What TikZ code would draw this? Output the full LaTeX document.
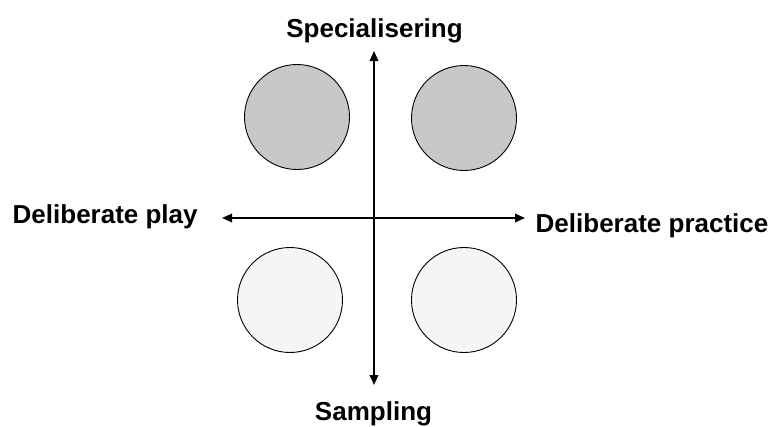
\documentclass[tikz,border=0pt]{standalone}
\usepackage{fontspec}
\setmainfont{Liberation Sans}
\usetikzlibrary{arrows.meta}
\definecolor{darkfill}{HTML}{C8C8C8}
\definecolor{lightfill}{HTML}{F5F5F5}
\begin{document}
\begin{tikzpicture}[x=1pt,y=-1pt,
  axis/.style={line width=1.8pt,-{Triangle[length=10pt,width=8.5pt]}},
  disc/.style={circle,draw=black,line width=0.9pt,minimum size=105pt,inner sep=0pt},
  lbl/.style={font=\fontsize{26}{30}\selectfont\bfseries,inner sep=0pt}]
\useasboundingbox (0,0) rectangle (775,426);
\node[disc,fill=darkfill] (tl) at (297,117) {};
\node[disc,fill=darkfill] (tr) at (464,118) {};
\node[disc,fill=lightfill] (bl) at (290,300) {};
\node[disc,fill=lightfill] (br) at (464,300) {};
\coordinate (ctr) at (374,218);
\coordinate (top) at (374,51);
\coordinate (bot) at (374,385);
\coordinate (lft) at (222,218);
\coordinate (rgt) at (525,218);
\draw[axis] (ctr) -- (top);
\draw[axis] (ctr) -- (bot);
\draw[axis] (ctr) -- (lft);
\draw[axis] (ctr) -- (rgt);
\node[lbl,anchor=base] (spec) at (374.5,37) {Specialisering};
\node[lbl,anchor=base] (samp) at (373.5,420) {Sampling};
\node[lbl,anchor=base west] (play) at (12.5,223) {Deliberate play};
\node[lbl,anchor=base west] (prac) at (535.5,232) {Deliberate practice};
\end{tikzpicture}
\end{document}
